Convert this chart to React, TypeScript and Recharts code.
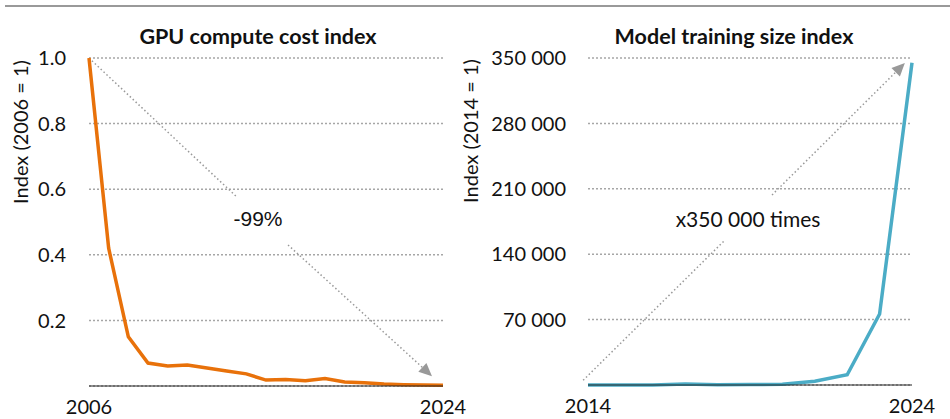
import React from "react";
import {
  LineChart,
  Line,
  XAxis,
  YAxis,
  CartesianGrid,
  ReferenceLine,
} from "recharts";

const gpuYears = [
  2006, 2007, 2008, 2009, 2010, 2011, 2012, 2013, 2014, 2015, 2016, 2017, 2018,
  2019, 2020, 2021, 2022, 2023, 2024,
];
const gpuCost = [
  1.0, 0.42, 0.15, 0.07, 0.061, 0.064, 0.055, 0.046, 0.037, 0.018, 0.02, 0.016,
  0.023, 0.012, 0.01, 0.006, 0.004, 0.003, 0.002,
];
const gpuTicks = [0.2, 0.4, 0.6, 0.8, 1.0];

const modelYears = [2014, 2015, 2016, 2017, 2018, 2019, 2020, 2021, 2022, 2023, 2024];
const modelSize = [1, 1, 1, 1200, 300, 500, 800, 4000, 11000, 76000, 345000];
const modelTicks = [70000, 140000, 210000, 280000, 350000];

const gpuData = gpuYears.map((year, i) => ({ year, value: gpuCost[i] }));
const modelData = modelYears.map((year, i) => ({ year, value: modelSize[i] }));

const FONT = "Lato, 'Open Sans', sans-serif";
const GRID = "#a6a6a6";
const ARROW = "#999999";

function fmtThousands(v: number) {
  return String(v).replace(/\B(?=(\d{3})+(?!\d))/g, " ");
}

function DottedSegment(props: any) {
  const { x1, y1, x2, y2 } = props;
  return (
    <line
      x1={x1}
      y1={y1}
      x2={x2}
      y2={y2}
      stroke={ARROW}
      strokeWidth={1.5}
      strokeDasharray="1.5 2.5"
    />
  );
}

function ArrowSegment(props: any) {
  const { x1, y1, x2, y2 } = props;
  const ang = Math.atan2(y2 - y1, x2 - x1);
  const len = 13;
  const half = 6;
  const bx = x2 - len * Math.cos(ang);
  const by = y2 - len * Math.sin(ang);
  const px = -Math.sin(ang) * half;
  const py = Math.cos(ang) * half;
  return (
    <g>
      <line
        x1={x1}
        y1={y1}
        x2={bx}
        y2={by}
        stroke={ARROW}
        strokeWidth={1.5}
        strokeDasharray="1.5 2.5"
      />
      <polygon
        points={`${x2},${y2} ${bx + px},${by + py} ${bx - px},${by - py}`}
        fill={ARROW}
      />
    </g>
  );
}

const titleStyle: React.CSSProperties = {
  position: "absolute",
  top: 22,
  textAlign: "center",
  fontFamily: FONT,
  fontWeight: 700,
  fontSize: 21.5,
  lineHeight: "28px",
  color: "#111",
};

function AxisTitle({ x, y, text }: { x: number; y: number; text: string }) {
  return (
    <text
      x={x}
      y={y}
      transform={`rotate(-90 ${x} ${y})`}
      textAnchor="middle"
      dominantBaseline="central"
      fontFamily={FONT}
      fontSize={20}
      fill="#111"
    >
      {text}
    </text>
  );
}

export default function App() {
  const tick = { fontSize: 20, fill: "#111", fontFamily: FONT };
  return (
    <div
      style={{
        position: "absolute",
        left: 0,
        top: 0,
        width: 950,
        height: 419,
        background: "#fff",
        overflow: "hidden",
      }}
    >
      <div
        style={{
          position: "absolute",
          left: 5,
          top: 5,
          width: 945,
          height: 2,
          background: "#999",
        }}
      />

      {/* left panel */}
      <div style={{ position: "absolute", left: 0, top: 0, width: 475, height: 419 }}>
        <div style={{ ...titleStyle, left: 0, width: 516 }}>GPU compute cost index</div>
        <LineChart
          width={475}
          height={419}
          data={gpuData}
          margin={{ top: 58, right: 32, bottom: 3, left: 29 }}
        >
          <CartesianGrid
            vertical={false}
            stroke={GRID}
            strokeWidth={1.5}
            strokeDasharray="2 2"
          />
          <XAxis
            dataKey="year"
            type="number"
            domain={[2006, 2024]}
            ticks={[2006, 2024]}
            height={30}
            tickLine={false}
            axisLine={{ stroke: "#222", strokeWidth: 1.2 }}
            tick={tick}
            tickMargin={8}
          />
          <YAxis
            width={60}
            domain={[0, 1]}
            ticks={gpuTicks}
            tickFormatter={(v: number) => v.toFixed(1)}
            axisLine={false}
            tickLine={false}
            tickSize={0}
            tickMargin={23}
            tick={tick}
            label={() => <AxisTitle x={20} y={132} text="Index (2006 = 1)" />}
          />
          <ReferenceLine
            ifOverflow="visible"
            segment={[
              { x: 2006, y: 1.0 },
              { x: 2013.52, y: 0.576 },
            ]}
            shape={DottedSegment}
          />
          <ReferenceLine
            ifOverflow="visible"
            segment={[
              { x: 2016.12, y: 0.43 },
              { x: 2023.44, y: 0.03 },
            ]}
            shape={ArrowSegment}
          />
          <Line
            dataKey="value"
            type="linear"
            stroke="#E8710A"
            strokeWidth={3.5}
            dot={false}
            isAnimationActive={false}
          />
        </LineChart>
        <div
          style={{
            position: "absolute",
            left: 208,
            top: 207,
            width: 100,
            textAlign: "center",
            fontFamily: "'Liberation Sans', Arial, sans-serif",
            fontSize: 21,
            color: "#111",
          }}
        >
          -99%
        </div>
      </div>

      {/* right panel */}
      <div style={{ position: "absolute", left: 455, top: 0, width: 495, height: 419 }}>
        <div style={{ ...titleStyle, left: 0, width: 558 }}>Model training size index</div>
        <LineChart
          width={495}
          height={419}
          data={modelData}
          margin={{ top: 58, right: 38, bottom: 4, left: 53 }}
        >
          <CartesianGrid
            vertical={false}
            stroke={GRID}
            strokeWidth={1.5}
            strokeDasharray="2 2"
          />
          <XAxis
            dataKey="year"
            type="number"
            domain={[2014, 2024]}
            ticks={[2014, 2024]}
            height={30}
            tickLine={false}
            axisLine={{ stroke: "#222", strokeWidth: 1.2 }}
            tick={tick}
            tickMargin={8}
          />
          <YAxis
            width={80}
            domain={[0, 350000]}
            ticks={modelTicks}
            tickFormatter={fmtThousands}
            axisLine={false}
            tickLine={false}
            tickSize={0}
            tickMargin={22}
            tick={tick}
            label={() => <AxisTitle x={15} y={131} text="Index (2014 = 1)" />}
          />
          <ReferenceLine
            ifOverflow="visible"
            segment={[
              { x: 2013.85, y: 5000 },
              { x: 2018.23, y: 155200 },
            ]}
            shape={DottedSegment}
          />
          <ReferenceLine
            ifOverflow="visible"
            segment={[
              { x: 2019.68, y: 203400 },
              { x: 2023.78, y: 344600 },
            ]}
            shape={ArrowSegment}
          />
          <Line
            dataKey="value"
            type="linear"
            stroke="#4BACC6"
            strokeWidth={3.5}
            dot={false}
            isAnimationActive={false}
          />
        </LineChart>
        <div
          style={{
            position: "absolute",
            left: 193,
            top: 206,
            width: 200,
            textAlign: "center",
            fontFamily: FONT,
            fontSize: 21,
            color: "#111",
          }}
        >
          x350 000 times
        </div>
      </div>
    </div>
  );
}
